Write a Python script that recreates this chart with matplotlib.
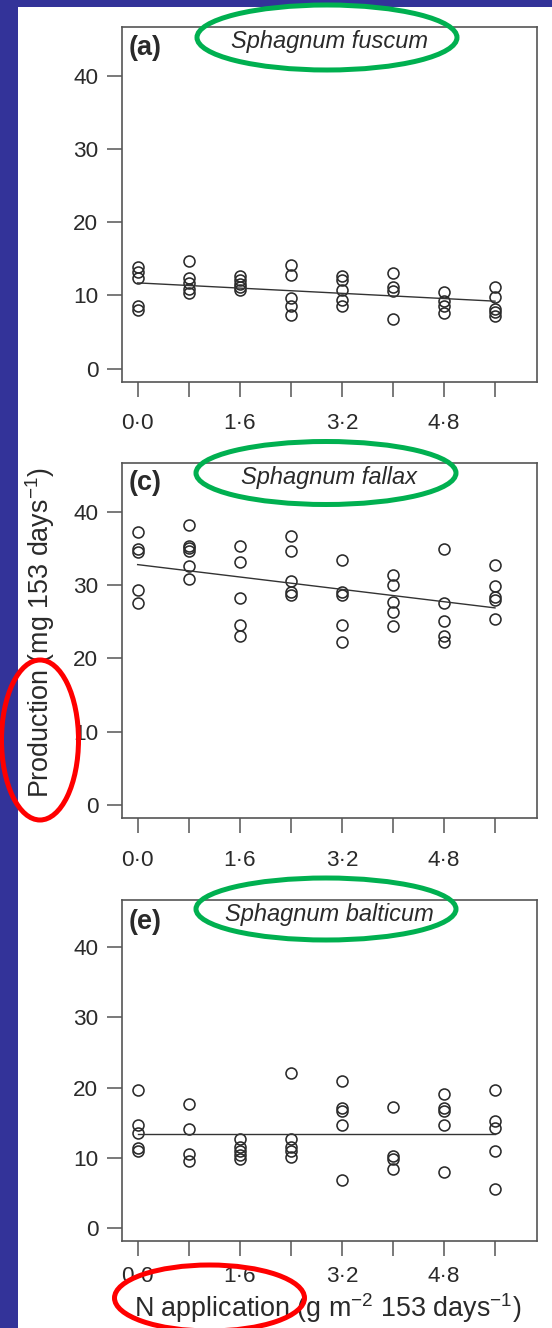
import matplotlib
matplotlib.use("Agg")
import matplotlib.pyplot as plt
from matplotlib.patches import Ellipse, Rectangle
import numpy as np

plt.rcParams['font.family'] = ['Liberation Sans', 'DejaVu Sans']
plt.rcParams['mathtext.fontset'] = 'custom'
plt.rcParams['mathtext.rm'] = 'Liberation Sans'
plt.rcParams['mathtext.it'] = 'Liberation Sans:italic'

# N application levels (g m-2 153 days-1)
n_levels = [0.0, 0.8, 1.6, 2.4, 3.2, 4.0, 4.8, 5.6]
tick_labels = ['0·0', '', '1·6', '', '3·2', '', '4·8', '']

# production per plot, grouped by N level
fuscum = [
    [13.9, 13.2, 12.4, 8.6, 8.0],
    [14.7, 12.4, 11.7, 10.9, 10.3],
    [12.6, 12.1, 11.6, 11.1, 10.7],
    [14.2, 12.8, 9.6, 8.5, 7.3],
    [12.6, 12.1, 10.7, 9.3, 8.5],
    [13.1, 11.1, 10.6, 6.8],
    [10.4, 9.2, 8.6, 7.6],
    [11.1, 9.8, 8.2, 7.7, 7.2],
]
fallax = [
    [37.2, 34.9, 34.5, 29.4, 27.6],
    [38.2, 35.3, 35.0, 34.7, 32.6, 30.9],
    [35.3, 33.2, 28.2, 24.5, 23.1],
    [36.7, 34.6, 30.6, 29.0, 28.6],
    [33.4, 29.1, 28.6, 24.5, 22.2],
    [31.4, 30.0, 27.7, 26.3, 24.4],
    [34.9, 27.6, 25.1, 23.1, 22.3],
    [32.7, 29.9, 28.4, 28.0, 25.4],
]
balticum = [
    [19.7, 14.7, 13.6, 11.4, 10.9],
    [17.6, 14.1, 10.6, 9.6],
    [12.7, 11.6, 11.0, 10.4, 9.8],
    [22.1, 12.7, 11.5, 10.9, 10.1],
    [20.9, 17.1, 16.6, 14.7, 6.8],
    [17.2, 10.2, 9.8, 8.4],
    [19.1, 17.1, 16.7, 14.7, 8.0],
    [19.7, 15.2, 14.2, 11.0, 5.5],
]

# regression lines (intercept, slope)
fit_intercepts = [11.7, 32.8, 13.4]
fit_slopes = [-0.446, -1.054, 0.0]

species = ['Sphagnum fuscum', 'Sphagnum fallax', 'Sphagnum balticum']
panel_tags = ['(a)', '(c)', '(e)']
datasets = [fuscum, fallax, balticum]

W, H = 552, 1328
fig = plt.figure(figsize=(W / 100, H / 100), dpi=100, facecolor='#333399')
# white page over the blue slide background
fig.patches.append(Rectangle((18.3 / W, 0), 1 - 18.3 / W, 1 - 7.3 / H,
                             transform=fig.transFigure, facecolor='white',
                             edgecolor='none', zorder=-10))

# panel boxes in pixels: left, right, top, bottom
boxes = [(121.7, 536.5, 26.7, 381.7),
         (121.7, 536.5, 462.7, 818.3),
         (121.7, 536.5, 900.0, 1240.7)]
tag_y = [0.941, 0.942, 0.936]
xpads = [12, 12, 7.5]

ink = '#2a2a2a'
frame = '#555555'

for i, (l, r, t, b) in enumerate(boxes):
    ax = fig.add_axes([l / W, 1 - b / H, (r - l) / W, (b - t) / H])
    for xv, ys in zip(n_levels, datasets[i]):
        ax.plot([xv] * len(ys), ys, 'o', mfc='none', mec=ink, ms=7.9, mew=1.15)
    xs = np.array([n_levels[0], n_levels[-1]])
    ax.plot(xs, fit_intercepts[i] + fit_slopes[i] * xs, color='#333333', lw=1.0)

    ax.set_xlim(-0.25, 6.25)
    ax.set_ylim(-1.8, 46.7)
    ax.set_xticks(n_levels)
    ax.set_xticklabels(tick_labels)
    ax.set_yticks([0, 10, 20, 30, 40])
    for s in ax.spines.values():
        s.set_color(frame)
        s.set_linewidth(1.2)
    ax.tick_params(axis='both', direction='out', length=10.8, width=1.1,
                   color=frame, labelsize=16.2, labelcolor=ink)
    ax.tick_params(axis='x', pad=xpads[i])
    ax.tick_params(axis='y', pad=6)

    ax.text(0.5, 0.958, species[i], transform=ax.transAxes, ha='center',
            va='center', fontsize=17, style='italic', color=ink)
    ax.text(0.0176, tag_y[i], panel_tags[i], transform=ax.transAxes, ha='left',
            va='center', fontsize=19.5, fontweight='bold', color=ink)

fig.text(40 / W, 1 - 633 / H, 'Production (mg 153 days$^{-1}$)', rotation=90,
         ha='center', va='center', fontsize=19.4, color=ink)
fig.text(327.5 / W, 1 - 1308 / H, 'N application (g m$^{-2}$ 153 days$^{-1}$)',
         ha='center', va='center', fontsize=19.4, color=ink)

# highlight rings
rings = [((327, 37.5), 260, 65, '#00b050'),
         ((326, 473), 260, 63, '#00b050'),
         ((326, 909), 260, 62, '#00b050'),
         ((40, 740), 77, 160, '#ff0000'),
         ((209.5, 1298), 190, 66, '#ff0000')]
for (cx, cy), w, h, c in rings:
    fig.patches.append(Ellipse((cx / W, 1 - cy / H), w / W, h / H,
                               transform=fig.transFigure, fill=False,
                               edgecolor=c, lw=3.6, zorder=10))

fig.savefig('out.png', dpi=100, facecolor=fig.get_facecolor())
